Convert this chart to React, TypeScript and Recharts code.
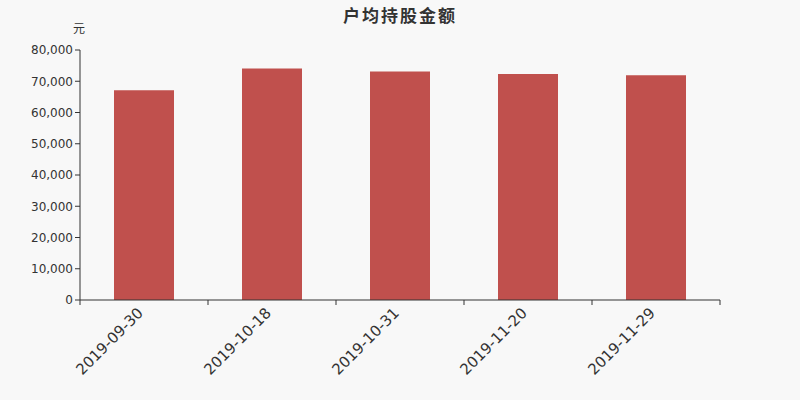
import { BarChart, Bar, XAxis, YAxis } from "recharts";

const dates = ["2019-09-30", "2019-10-18", "2019-10-31", "2019-11-20", "2019-11-29"];
const amounts = [67100, 74100, 73100, 72300, 71900];
const yTicks = [0, 10000, 20000, 30000, 40000, 50000, 60000, 70000, 80000];

const data = dates.map((d, i) => ({ date: d, amount: amounts[i] }));

const W = 800;
const H = 400;
const LEFT = 80;
const RIGHT = 80;
const band = (W - LEFT - RIGHT) / dates.length;

const DateTick = (props: any) => {
  const { x, y, payload, index } = props;
  return (
    <g>
      <line x1={x - band / 2} y1={y - 8} x2={x - band / 2} y2={y - 3} stroke="#333" />
      {index === dates.length - 1 && (
        <line x1={x + band / 2} y1={y - 8} x2={x + band / 2} y2={y - 3} stroke="#333" />
      )}
      <text
        x={x}
        y={y + 6}
        textAnchor="end"
        fill="#333"
        fontSize={15}
        transform={`rotate(-45 ${x} ${y + 6})`}
      >
        {payload.value}
      </text>
    </g>
  );
};

export default function App() {
  return (
    <div
      style={{
        position: "absolute",
        left: 0,
        top: 0,
        width: W,
        height: H,
        background: "#f8f8f8",
        fontFamily: "'DejaVu Sans', sans-serif",
      }}
    >
      <div
        style={{
          position: "absolute",
          top: 2,
          width: W,
          textAlign: "center",
          fontSize: 17,
          fontWeight: "bold",
          color: "#333",
          letterSpacing: 2,
          fontFamily: "'Noto Sans CJK SC', sans-serif",
        }}
      >
        户均持股金额
      </div>
      <div
        style={{
          position: "absolute",
          left: 73,
          top: 19,
          fontSize: 12,
          color: "#333",
          fontFamily: "'Noto Sans CJK SC', sans-serif",
        }}
      >
        元
      </div>
      <BarChart
        width={W}
        height={H}
        data={data}
        margin={{ top: 50, right: RIGHT, bottom: 0, left: 0 }}
        barCategoryGap={34}
      >
        <XAxis
          dataKey="date"
          interval={0}
          height={100}
          axisLine={{ stroke: "#333" }}
          tickLine={false}
          tick={<DateTick />}
        />
        <YAxis
          width={LEFT}
          domain={[0, 80000]}
          ticks={yTicks}
          interval={0}
          axisLine={{ stroke: "#333" }}
          tickLine={{ stroke: "#333" }}
          tickSize={5}
          tick={{ fill: "#333", fontSize: 12 }}
          tickFormatter={(v: number) => v.toLocaleString("en-US")}
        />
        <Bar dataKey="amount" fill="#c0504d" isAnimationActive={false} />
      </BarChart>
    </div>
  );
}
